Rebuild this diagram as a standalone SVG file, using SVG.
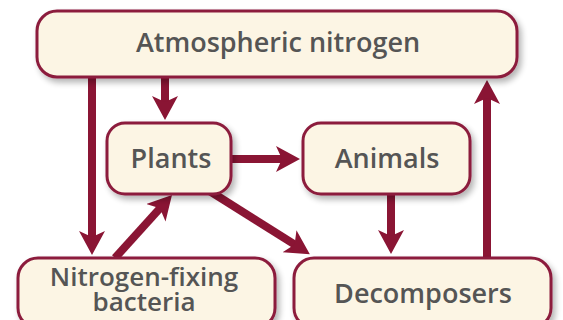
<svg xmlns="http://www.w3.org/2000/svg" width="563" height="320" viewBox="0 0 563 320">
<style>
.box{fill:#fcf5e4;stroke:#8c1d3c;stroke-width:3;filter:url(#sh)}
.lbl{font-family:"Open Sans","Noto Sans",sans-serif;font-size:27px;font-weight:600;fill:#555555;text-anchor:middle}
.sm{font-size:26px}
.arr{stroke:#8a1534;stroke-width:8;fill:none;marker-end:url(#ah)}
</style>
<defs>
<filter id="sh" x="-10%" y="-10%" width="130%" height="140%">
<feGaussianBlur in="SourceAlpha" stdDeviation="3"/>
<feOffset dx="3" dy="4" result="b"/>
<feComponentTransfer><feFuncA type="linear" slope="0.3"/></feComponentTransfer>
<feMerge><feMergeNode/><feMergeNode in="SourceGraphic"/></feMerge>
</filter>
<marker id="ah" markerUnits="userSpaceOnUse" markerWidth="26" markerHeight="28" refX="10" refY="13" orient="auto">
<path d="M0,0 L24,13 L0,26 L6,13 Z" fill="#8a1534"/>
</marker>
</defs>
<g id="connectors">
<line class="arr" x1="92" y1="77" x2="92" y2="241"/>
<line class="arr" x1="165" y1="77" x2="165" y2="106"/>
<line class="arr" x1="487" y1="258" x2="487" y2="94"/>
<line class="arr" x1="232" y1="159" x2="286" y2="159"/>
<line class="arr" x1="391" y1="195" x2="391" y2="240"/>
<line class="arr" x1="115" y1="258" x2="162.6" y2="205.4"/>
<line class="arr" x1="208" y1="190" x2="298" y2="246.7"/>
</g>
<g id="atmospheric">
<rect class="box" x="37" y="11" width="480" height="66" rx="20"/>
<text class="lbl" x="278" y="52">Atmospheric nitrogen</text>
</g>
<g id="plants">
<rect class="box" x="107" y="123" width="124" height="71" rx="18"/>
<text class="lbl" x="171" y="168">Plants</text>
</g>
<g id="animals">
<rect class="box" x="303" y="123" width="167" height="71" rx="18"/>
<text class="lbl" x="387" y="168">Animals</text>
</g>
<g id="bacteria">
<rect class="box" x="18" y="258" width="257" height="70" rx="20"/>
<text class="lbl sm" x="144" y="286">Nitrogen-fixing</text>
<text class="lbl sm" x="144" y="311">bacteria</text>
</g>
<g id="decomposers">
<rect class="box" x="294" y="258" width="257" height="70" rx="20"/>
<text class="lbl" x="423" y="303">Decomposers</text>
</g>
</svg>
